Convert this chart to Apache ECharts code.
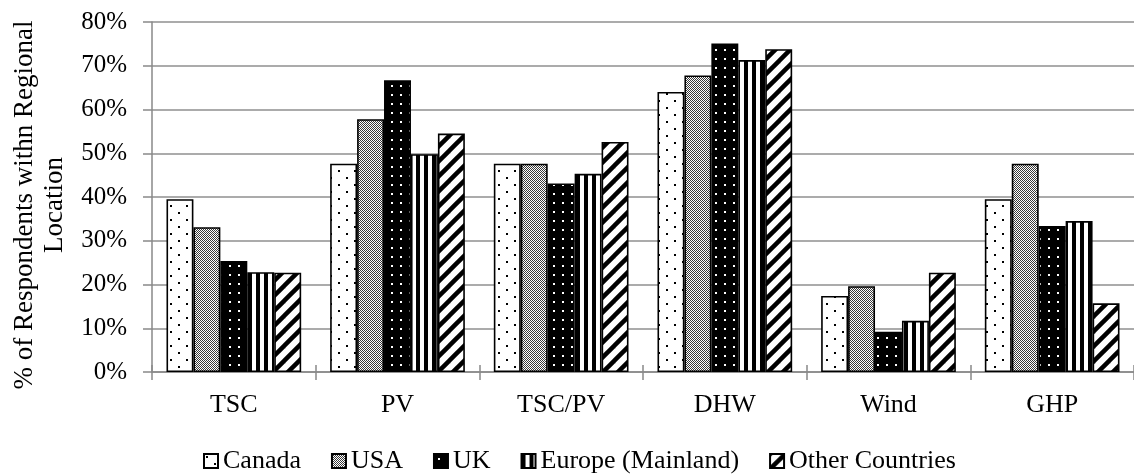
<!DOCTYPE html>
<html>
<head>
<meta charset="utf-8">
<script src="https://cdn.jsdelivr.net/npm/echarts@6/dist/echarts.min.js"></script>
<style>
  html, body { margin: 0; padding: 0; background: #fff; }
  #chart { width: 1134px; height: 474px; }
</style>
</head>
<body>
<div id="chart"></div>
<script>
// Technologies surveyed
const categories = ['TSC', 'PV', 'TSC/PV', 'DHW', 'Wind', 'GHP'];

// Share of respondents (%) per region
const canada = [39.5, 47.6, 47.6, 64.0, 17.4, 39.5];
const usa = [33.1, 57.8, 47.6, 67.8, 19.6, 47.6];
const uk = [25.4, 66.7, 43.1, 75.1, 9.2, 33.4];
const europe = [22.8, 49.8, 45.3, 71.3, 11.7, 34.5];
const otherCountries = [22.7, 54.5, 52.6, 73.8, 22.7, 15.7];

const seriesNames = ['Canada', 'USA', 'UK', 'Europe (Mainland)', 'Other Countries'];
const seriesData = [canada, usa, uk, europe, otherCountries];

// Axis ticks
const yMin = 0, yMax = 80, yStep = 10;

const FONT = 'Liberation Serif';

// Fill patterns drawn on small repeating canvas tiles
function tile(w, h, draw) {
  const c = document.createElement('canvas');
  c.width = w; c.height = h;
  const g = c.getContext('2d');
  draw(g, w, h);
  return { image: c, repeat: 'repeat' };
}

const patterns = [
  // sparse staggered black dots on white
  tile(16, 14, (g, w, h) => {
    g.fillStyle = '#fff'; g.fillRect(0, 0, w, h);
    g.fillStyle = '#000';
    g.fillRect(2, 2, 2, 2);
    g.fillRect(10, 9, 2, 2);
  }),
  // fine checkerboard
  tile(2, 2, (g, w, h) => {
    g.fillStyle = '#fff'; g.fillRect(0, 0, w, h);
    g.fillStyle = '#3a3a3a';
    g.fillRect(0, 0, 1, 1);
    g.fillRect(1, 1, 1, 1);
  }),
  // small white dots on black
  tile(9, 9, (g, w, h) => {
    g.fillStyle = '#000'; g.fillRect(0, 0, w, h);
    g.fillStyle = '#fff';
    g.fillRect(4, 4, 2, 2);
  }),
  // vertical stripes
  tile(8, 1, (g, w, h) => {
    g.fillStyle = '#fff'; g.fillRect(0, 0, w, h);
    g.fillStyle = '#000'; g.fillRect(0, 0, 4, h);
  }),
  // wide diagonal stripes
  tile(15, 15, (g, w, h) => {
    g.fillStyle = '#fff'; g.fillRect(0, 0, w, h);
    g.strokeStyle = '#000'; g.lineWidth = 4.5;
    for (const k of [-w, 0, w]) {
      g.beginPath();
      g.moveTo(k - 2, h + 2);
      g.lineTo(k + w + 2, -2);
      g.stroke();
    }
  })
];

const axisGrey = '#898989';

const chart = echarts.init(document.getElementById('chart'), null, { renderer: 'canvas' });

const option = {
  animation: false,
  backgroundColor: '#fff',
  grid: { left: 152, top: 22, width: 991, height: 350, containLabel: false },
  legend: {
    data: seriesNames,
    left: 198,
    top: 443,
    icon: 'rect',
    itemWidth: 14,
    itemHeight: 14,
    itemGap: 30,
    textStyle: { fontFamily: FONT, fontSize: 26, color: '#000' }
  },
  xAxis: [
    {
      type: 'category',
      data: categories,
      axisLine: { lineStyle: { color: axisGrey, width: 1.5 } },
      axisTick: { show: true, length: 8, lineStyle: { color: axisGrey, width: 1.5 } },
      axisLabel: { fontFamily: FONT, fontSize: 26, color: '#000', margin: 20 },
      splitLine: { show: false }
    },
    {
      // upward half of the crossing category ticks
      type: 'category',
      data: categories,
      position: 'bottom',
      axisLine: { show: false },
      axisTick: { show: true, inside: true, length: 7, lineStyle: { color: axisGrey, width: 1.5 } },
      axisLabel: { show: false },
      splitLine: { show: false }
    }
  ],
  yAxis: {
    type: 'value',
    min: yMin,
    max: yMax,
    interval: yStep,
    axisLine: { show: true, lineStyle: { color: axisGrey, width: 1.5 } },
    axisTick: { show: true, length: 9, lineStyle: { color: axisGrey, width: 1.5 } },
    axisLabel: { formatter: '{value}%', fontFamily: FONT, fontSize: 25, color: '#000', margin: 25 },
    splitLine: { lineStyle: { color: '#8f8f8f', width: 1.5 } },
    name: '% of Respondents withn Regional\nLocation',
    nameLocation: 'middle',
    nameRotate: 90,
    nameGap: 82,
    nameTextStyle: { fontFamily: FONT, fontSize: 27, lineHeight: 30, color: '#000', padding: [0, 16, 0, 0] }
  },
  series: seriesNames.map((name, i) => ({
    name: name,
    type: 'bar',
    data: seriesData[i],
    barGap: '0%',
    barCategoryGap: '17.7%',
    itemStyle: { color: patterns[i], borderColor: '#000', borderWidth: 1.6 },
    emphasis: { disabled: true }
  }))
};

chart.setOption(option);
</script>
</body>
</html>
